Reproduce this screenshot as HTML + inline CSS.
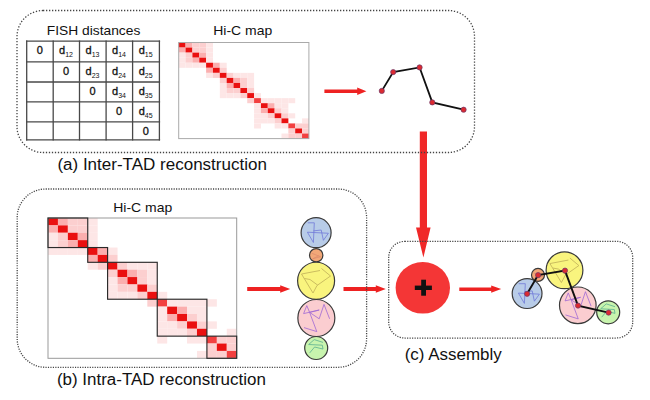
<!DOCTYPE html>
<html><head><meta charset="utf-8"><style>
html,body{margin:0;padding:0;background:#fff;width:650px;height:400px;overflow:hidden}
svg{display:block}
text{font-family:"Liberation Sans",sans-serif;fill:#111;stroke:#111;stroke-width:0.2px}
.lab16{font-size:15.6px;stroke-width:0}
.lab14{font-size:13px;stroke-width:0}
.tc{font-size:11px;stroke:#111;stroke-width:0.3px}
.sub{font-size:7px;stroke-width:0}
</style></head><body>
<svg width="650" height="400" viewBox="0 0 650 400">
<line x1="26.7" y1="40.5" x2="26.7" y2="140.5" stroke="#484848" stroke-width="1.3"/>
<line x1="53.2" y1="40.5" x2="53.2" y2="140.5" stroke="#484848" stroke-width="1.3"/>
<line x1="79.5" y1="40.5" x2="79.5" y2="140.5" stroke="#484848" stroke-width="1.3"/>
<line x1="106.1" y1="40.5" x2="106.1" y2="140.5" stroke="#484848" stroke-width="1.3"/>
<line x1="132.6" y1="40.5" x2="132.6" y2="140.5" stroke="#484848" stroke-width="1.3"/>
<line x1="159.4" y1="40.5" x2="159.4" y2="140.5" stroke="#484848" stroke-width="1.3"/>
<line x1="26.0" y1="41.2" x2="160.1" y2="41.2" stroke="#484848" stroke-width="1.3"/>
<line x1="26.0" y1="61.9" x2="160.1" y2="61.9" stroke="#484848" stroke-width="1.3"/>
<line x1="26.0" y1="82.0" x2="160.1" y2="82.0" stroke="#484848" stroke-width="1.3"/>
<line x1="26.0" y1="101.8" x2="160.1" y2="101.8" stroke="#484848" stroke-width="1.3"/>
<line x1="26.0" y1="121.9" x2="160.1" y2="121.9" stroke="#484848" stroke-width="1.3"/>
<line x1="26.0" y1="139.8" x2="160.1" y2="139.8" stroke="#484848" stroke-width="1.3"/>
<text x="39.7" y="54.2" class="tc" text-anchor="middle">0</text>
<text x="66.0" y="54.2" class="tc" text-anchor="middle">d<tspan class="sub" dy="2.9">12</tspan></text>
<text x="92.5" y="54.2" class="tc" text-anchor="middle">d<tspan class="sub" dy="2.9">13</tspan></text>
<text x="119.0" y="54.2" class="tc" text-anchor="middle">d<tspan class="sub" dy="2.9">14</tspan></text>
<text x="145.7" y="54.2" class="tc" text-anchor="middle">d<tspan class="sub" dy="2.9">15</tspan></text>
<text x="66.0" y="74.9" class="tc" text-anchor="middle">0</text>
<text x="92.5" y="74.9" class="tc" text-anchor="middle">d<tspan class="sub" dy="2.9">23</tspan></text>
<text x="119.0" y="74.9" class="tc" text-anchor="middle">d<tspan class="sub" dy="2.9">24</tspan></text>
<text x="145.7" y="74.9" class="tc" text-anchor="middle">d<tspan class="sub" dy="2.9">25</tspan></text>
<text x="92.5" y="95.0" class="tc" text-anchor="middle">0</text>
<text x="119.0" y="95.0" class="tc" text-anchor="middle">d<tspan class="sub" dy="2.9">34</tspan></text>
<text x="145.7" y="95.0" class="tc" text-anchor="middle">d<tspan class="sub" dy="2.9">35</tspan></text>
<text x="119.0" y="114.8" class="tc" text-anchor="middle">0</text>
<text x="145.7" y="114.8" class="tc" text-anchor="middle">d<tspan class="sub" dy="2.9">45</tspan></text>
<text x="145.7" y="134.9" class="tc" text-anchor="middle">0</text>
<text x="46.8" y="34.8" class="lab14" textLength="93.5" lengthAdjust="spacingAndGlyphs">FISH distances</text>
<rect x="178.70" y="42.50" width="6.87" height="5.08" fill="#ea1010"/>
<rect x="185.55" y="42.50" width="6.87" height="5.08" fill="#fbaeae"/>
<rect x="192.41" y="42.50" width="6.87" height="5.08" fill="#fccfcf"/>
<rect x="199.26" y="42.50" width="6.87" height="5.08" fill="#fccfcf"/>
<rect x="206.11" y="42.50" width="6.87" height="5.08" fill="#fde6e6"/>
<rect x="178.70" y="47.56" width="6.87" height="5.08" fill="#fbaeae"/>
<rect x="185.55" y="47.56" width="6.87" height="5.08" fill="#ea1010"/>
<rect x="192.41" y="47.56" width="6.87" height="5.08" fill="#fccfcf"/>
<rect x="199.26" y="47.56" width="6.87" height="5.08" fill="#fccfcf"/>
<rect x="206.11" y="47.56" width="6.87" height="5.08" fill="#fde6e6"/>
<rect x="178.70" y="52.62" width="6.87" height="5.08" fill="#fde6e6"/>
<rect x="185.55" y="52.62" width="6.87" height="5.08" fill="#fccfcf"/>
<rect x="192.41" y="52.62" width="6.87" height="5.08" fill="#ea1010"/>
<rect x="199.26" y="52.62" width="6.87" height="5.08" fill="#fbaeae"/>
<rect x="206.11" y="52.62" width="6.87" height="5.08" fill="#fde6e6"/>
<rect x="178.70" y="57.67" width="6.87" height="5.08" fill="#fde6e6"/>
<rect x="185.55" y="57.67" width="6.87" height="5.08" fill="#fccfcf"/>
<rect x="192.41" y="57.67" width="6.87" height="5.08" fill="#fbaeae"/>
<rect x="199.26" y="57.67" width="6.87" height="5.08" fill="#ea1010"/>
<rect x="206.11" y="57.67" width="6.87" height="5.08" fill="#fde6e6"/>
<rect x="178.70" y="62.73" width="6.87" height="5.08" fill="#fde6e6"/>
<rect x="185.55" y="62.73" width="6.87" height="5.08" fill="#fde6e6"/>
<rect x="192.41" y="62.73" width="6.87" height="5.08" fill="#fde6e6"/>
<rect x="199.26" y="62.73" width="6.87" height="5.08" fill="#fde6e6"/>
<rect x="206.11" y="62.73" width="6.87" height="5.08" fill="#ea1010"/>
<rect x="212.96" y="62.73" width="6.87" height="5.08" fill="#fbaeae"/>
<rect x="219.82" y="62.73" width="6.87" height="5.08" fill="#fde6e6"/>
<rect x="206.11" y="67.79" width="6.87" height="5.08" fill="#fbaeae"/>
<rect x="212.96" y="67.79" width="6.87" height="5.08" fill="#ea1010"/>
<rect x="219.82" y="67.79" width="6.87" height="5.08" fill="#fccfcf"/>
<rect x="206.11" y="72.85" width="6.87" height="5.08" fill="#fde6e6"/>
<rect x="212.96" y="72.85" width="6.87" height="5.08" fill="#fccfcf"/>
<rect x="219.82" y="72.85" width="6.87" height="5.08" fill="#ea1010"/>
<rect x="226.67" y="72.85" width="6.87" height="5.08" fill="#fccfcf"/>
<rect x="233.52" y="72.85" width="6.87" height="5.08" fill="#fde6e6"/>
<rect x="240.37" y="72.85" width="6.87" height="5.08" fill="#fde6e6"/>
<rect x="247.23" y="72.85" width="6.87" height="5.08" fill="#fde6e6"/>
<rect x="219.82" y="77.91" width="6.87" height="5.08" fill="#fccfcf"/>
<rect x="226.67" y="77.91" width="6.87" height="5.08" fill="#ea1010"/>
<rect x="233.52" y="77.91" width="6.87" height="5.08" fill="#fbaeae"/>
<rect x="240.37" y="77.91" width="6.87" height="5.08" fill="#fccfcf"/>
<rect x="247.23" y="77.91" width="6.87" height="5.08" fill="#fde6e6"/>
<rect x="219.82" y="82.96" width="6.87" height="5.08" fill="#fde6e6"/>
<rect x="226.67" y="82.96" width="6.87" height="5.08" fill="#fbaeae"/>
<rect x="233.52" y="82.96" width="6.87" height="5.08" fill="#ea1010"/>
<rect x="240.37" y="82.96" width="6.87" height="5.08" fill="#fccfcf"/>
<rect x="247.23" y="82.96" width="6.87" height="5.08" fill="#fde6e6"/>
<rect x="219.82" y="88.02" width="6.87" height="5.08" fill="#fde6e6"/>
<rect x="226.67" y="88.02" width="6.87" height="5.08" fill="#fccfcf"/>
<rect x="233.52" y="88.02" width="6.87" height="5.08" fill="#fccfcf"/>
<rect x="240.37" y="88.02" width="6.87" height="5.08" fill="#ea1010"/>
<rect x="247.23" y="88.02" width="6.87" height="5.08" fill="#fccfcf"/>
<rect x="219.82" y="93.08" width="6.87" height="5.08" fill="#fde6e6"/>
<rect x="226.67" y="93.08" width="6.87" height="5.08" fill="#fde6e6"/>
<rect x="233.52" y="93.08" width="6.87" height="5.08" fill="#fde6e6"/>
<rect x="240.37" y="93.08" width="6.87" height="5.08" fill="#fccfcf"/>
<rect x="247.23" y="93.08" width="6.87" height="5.08" fill="#ea1010"/>
<rect x="254.08" y="93.08" width="6.87" height="5.08" fill="#fde6e6"/>
<rect x="247.23" y="98.14" width="6.87" height="5.08" fill="#fccfcf"/>
<rect x="254.08" y="98.14" width="6.87" height="5.08" fill="#f24040"/>
<rect x="260.93" y="98.14" width="6.87" height="5.08" fill="#fde6e6"/>
<rect x="267.78" y="98.14" width="6.87" height="5.08" fill="#fde6e6"/>
<rect x="274.64" y="98.14" width="6.87" height="5.08" fill="#fde6e6"/>
<rect x="281.49" y="98.14" width="6.87" height="5.08" fill="#fde6e6"/>
<rect x="288.34" y="98.14" width="6.87" height="5.08" fill="#fde6e6"/>
<rect x="254.08" y="103.19" width="6.87" height="5.08" fill="#fde6e6"/>
<rect x="260.93" y="103.19" width="6.87" height="5.08" fill="#ea1010"/>
<rect x="267.78" y="103.19" width="6.87" height="5.08" fill="#fbaeae"/>
<rect x="274.64" y="103.19" width="6.87" height="5.08" fill="#fde6e6"/>
<rect x="281.49" y="103.19" width="6.87" height="5.08" fill="#fde6e6"/>
<rect x="254.08" y="108.25" width="6.87" height="5.08" fill="#fde6e6"/>
<rect x="260.93" y="108.25" width="6.87" height="5.08" fill="#fbaeae"/>
<rect x="267.78" y="108.25" width="6.87" height="5.08" fill="#ea1010"/>
<rect x="274.64" y="108.25" width="6.87" height="5.08" fill="#fccfcf"/>
<rect x="281.49" y="108.25" width="6.87" height="5.08" fill="#fde6e6"/>
<rect x="254.08" y="113.31" width="6.87" height="5.08" fill="#fde6e6"/>
<rect x="260.93" y="113.31" width="6.87" height="5.08" fill="#fde6e6"/>
<rect x="267.78" y="113.31" width="6.87" height="5.08" fill="#fccfcf"/>
<rect x="274.64" y="113.31" width="6.87" height="5.08" fill="#ea1010"/>
<rect x="281.49" y="113.31" width="6.87" height="5.08" fill="#fccfcf"/>
<rect x="288.34" y="113.31" width="6.87" height="5.08" fill="#fde6e6"/>
<rect x="254.08" y="118.37" width="6.87" height="5.08" fill="#fde6e6"/>
<rect x="260.93" y="118.37" width="6.87" height="5.08" fill="#fde6e6"/>
<rect x="267.78" y="118.37" width="6.87" height="5.08" fill="#fde6e6"/>
<rect x="274.64" y="118.37" width="6.87" height="5.08" fill="#fccfcf"/>
<rect x="281.49" y="118.37" width="6.87" height="5.08" fill="#ea1010"/>
<rect x="302.05" y="118.37" width="6.87" height="5.08" fill="#fde6e6"/>
<rect x="254.08" y="123.43" width="6.87" height="5.08" fill="#fde6e6"/>
<rect x="274.64" y="123.43" width="6.87" height="5.08" fill="#fde6e6"/>
<rect x="281.49" y="123.43" width="6.87" height="5.08" fill="#fde6e6"/>
<rect x="288.34" y="123.43" width="6.87" height="5.08" fill="#f24040"/>
<rect x="295.19" y="123.43" width="6.87" height="5.08" fill="#fccfcf"/>
<rect x="302.05" y="123.43" width="6.87" height="5.08" fill="#fccfcf"/>
<rect x="288.34" y="128.48" width="6.87" height="5.08" fill="#fccfcf"/>
<rect x="295.19" y="128.48" width="6.87" height="5.08" fill="#ea1010"/>
<rect x="302.05" y="128.48" width="6.87" height="5.08" fill="#fccfcf"/>
<rect x="281.49" y="133.54" width="6.87" height="5.08" fill="#fde6e6"/>
<rect x="288.34" y="133.54" width="6.87" height="5.08" fill="#fccfcf"/>
<rect x="295.19" y="133.54" width="6.87" height="5.08" fill="#fccfcf"/>
<rect x="302.05" y="133.54" width="6.87" height="5.08" fill="#f24040"/>
<rect x="178.7" y="42.5" width="130.2" height="96.1" fill="none" stroke="#aaa" stroke-width="1"/>
<text x="213.2" y="34.9" class="lab14" textLength="59" lengthAdjust="spacingAndGlyphs">Hi-C map</text>
<polygon points="324.4,89.6 357.2,89.6 357.2,87.5 366.4,91.3 357.2,95.1 357.2,93.0 324.4,93.0" fill="#e22"/>
<polyline points="381.8,90.9 393.2,72.1 419.6,67.4 432.3,102.4 463.6,109.7" fill="none" stroke="#111" stroke-width="1.8"/>
<circle cx="381.8" cy="90.9" r="2.6" fill="#dc2a30" stroke="#6a3a6a" stroke-width="0.7"/>
<circle cx="393.2" cy="72.1" r="2.6" fill="#dc2a30" stroke="#6a3a6a" stroke-width="0.7"/>
<circle cx="419.6" cy="67.4" r="2.6" fill="#dc2a30" stroke="#6a3a6a" stroke-width="0.7"/>
<circle cx="432.3" cy="102.4" r="2.6" fill="#dc2a30" stroke="#6a3a6a" stroke-width="0.7"/>
<circle cx="463.6" cy="109.7" r="2.6" fill="#dc2a30" stroke="#6a3a6a" stroke-width="0.7"/>
<text x="57.4" y="169.6" class="lab16" textLength="209.5" lengthAdjust="spacingAndGlyphs">(a) Inter-TAD reconstruction</text>
<polygon points="419.8,131.5 427,131.5 427,227.5 430.6,227.5 423.4,257.5 416,227.5 419.8,227.5" fill="#f02828"/>
<rect x="48.00" y="218.00" width="9.95" height="7.40" fill="#ea1010"/>
<rect x="57.93" y="218.00" width="9.95" height="7.40" fill="#fbaeae"/>
<rect x="67.86" y="218.00" width="9.95" height="7.40" fill="#fccfcf"/>
<rect x="77.79" y="218.00" width="9.95" height="7.40" fill="#fccfcf"/>
<rect x="87.73" y="218.00" width="9.95" height="7.40" fill="#fde6e6"/>
<rect x="48.00" y="225.38" width="9.95" height="7.40" fill="#fbaeae"/>
<rect x="57.93" y="225.38" width="9.95" height="7.40" fill="#ea1010"/>
<rect x="67.86" y="225.38" width="9.95" height="7.40" fill="#fccfcf"/>
<rect x="77.79" y="225.38" width="9.95" height="7.40" fill="#fccfcf"/>
<rect x="87.73" y="225.38" width="9.95" height="7.40" fill="#fde6e6"/>
<rect x="48.00" y="232.77" width="9.95" height="7.40" fill="#fde6e6"/>
<rect x="57.93" y="232.77" width="9.95" height="7.40" fill="#fccfcf"/>
<rect x="67.86" y="232.77" width="9.95" height="7.40" fill="#ea1010"/>
<rect x="77.79" y="232.77" width="9.95" height="7.40" fill="#fbaeae"/>
<rect x="87.73" y="232.77" width="9.95" height="7.40" fill="#fde6e6"/>
<rect x="48.00" y="240.15" width="9.95" height="7.40" fill="#fde6e6"/>
<rect x="57.93" y="240.15" width="9.95" height="7.40" fill="#fccfcf"/>
<rect x="67.86" y="240.15" width="9.95" height="7.40" fill="#fbaeae"/>
<rect x="77.79" y="240.15" width="9.95" height="7.40" fill="#ea1010"/>
<rect x="87.73" y="240.15" width="9.95" height="7.40" fill="#fde6e6"/>
<rect x="48.00" y="247.54" width="9.95" height="7.40" fill="#fde6e6"/>
<rect x="57.93" y="247.54" width="9.95" height="7.40" fill="#fde6e6"/>
<rect x="67.86" y="247.54" width="9.95" height="7.40" fill="#fde6e6"/>
<rect x="77.79" y="247.54" width="9.95" height="7.40" fill="#fde6e6"/>
<rect x="87.73" y="247.54" width="9.95" height="7.40" fill="#ea1010"/>
<rect x="97.66" y="247.54" width="9.95" height="7.40" fill="#fbaeae"/>
<rect x="107.59" y="247.54" width="9.95" height="7.40" fill="#fde6e6"/>
<rect x="87.73" y="254.92" width="9.95" height="7.40" fill="#fbaeae"/>
<rect x="97.66" y="254.92" width="9.95" height="7.40" fill="#ea1010"/>
<rect x="107.59" y="254.92" width="9.95" height="7.40" fill="#fccfcf"/>
<rect x="87.73" y="262.31" width="9.95" height="7.40" fill="#fde6e6"/>
<rect x="97.66" y="262.31" width="9.95" height="7.40" fill="#fccfcf"/>
<rect x="107.59" y="262.31" width="9.95" height="7.40" fill="#ea1010"/>
<rect x="117.52" y="262.31" width="9.95" height="7.40" fill="#fccfcf"/>
<rect x="127.45" y="262.31" width="9.95" height="7.40" fill="#fde6e6"/>
<rect x="137.38" y="262.31" width="9.95" height="7.40" fill="#fde6e6"/>
<rect x="147.32" y="262.31" width="9.95" height="7.40" fill="#fde6e6"/>
<rect x="107.59" y="269.69" width="9.95" height="7.40" fill="#fccfcf"/>
<rect x="117.52" y="269.69" width="9.95" height="7.40" fill="#ea1010"/>
<rect x="127.45" y="269.69" width="9.95" height="7.40" fill="#fbaeae"/>
<rect x="137.38" y="269.69" width="9.95" height="7.40" fill="#fccfcf"/>
<rect x="147.32" y="269.69" width="9.95" height="7.40" fill="#fde6e6"/>
<rect x="107.59" y="277.07" width="9.95" height="7.40" fill="#fde6e6"/>
<rect x="117.52" y="277.07" width="9.95" height="7.40" fill="#fbaeae"/>
<rect x="127.45" y="277.07" width="9.95" height="7.40" fill="#ea1010"/>
<rect x="137.38" y="277.07" width="9.95" height="7.40" fill="#fccfcf"/>
<rect x="147.32" y="277.07" width="9.95" height="7.40" fill="#fde6e6"/>
<rect x="107.59" y="284.46" width="9.95" height="7.40" fill="#fde6e6"/>
<rect x="117.52" y="284.46" width="9.95" height="7.40" fill="#fccfcf"/>
<rect x="127.45" y="284.46" width="9.95" height="7.40" fill="#fccfcf"/>
<rect x="137.38" y="284.46" width="9.95" height="7.40" fill="#ea1010"/>
<rect x="147.32" y="284.46" width="9.95" height="7.40" fill="#fccfcf"/>
<rect x="107.59" y="291.84" width="9.95" height="7.40" fill="#fde6e6"/>
<rect x="117.52" y="291.84" width="9.95" height="7.40" fill="#fde6e6"/>
<rect x="127.45" y="291.84" width="9.95" height="7.40" fill="#fde6e6"/>
<rect x="137.38" y="291.84" width="9.95" height="7.40" fill="#fccfcf"/>
<rect x="147.32" y="291.84" width="9.95" height="7.40" fill="#ea1010"/>
<rect x="157.25" y="291.84" width="9.95" height="7.40" fill="#fde6e6"/>
<rect x="147.32" y="299.23" width="9.95" height="7.40" fill="#fccfcf"/>
<rect x="157.25" y="299.23" width="9.95" height="7.40" fill="#f24040"/>
<rect x="167.18" y="299.23" width="9.95" height="7.40" fill="#fde6e6"/>
<rect x="177.11" y="299.23" width="9.95" height="7.40" fill="#fde6e6"/>
<rect x="187.04" y="299.23" width="9.95" height="7.40" fill="#fde6e6"/>
<rect x="196.97" y="299.23" width="9.95" height="7.40" fill="#fde6e6"/>
<rect x="206.91" y="299.23" width="9.95" height="7.40" fill="#fde6e6"/>
<rect x="157.25" y="306.61" width="9.95" height="7.40" fill="#fde6e6"/>
<rect x="167.18" y="306.61" width="9.95" height="7.40" fill="#ea1010"/>
<rect x="177.11" y="306.61" width="9.95" height="7.40" fill="#fbaeae"/>
<rect x="187.04" y="306.61" width="9.95" height="7.40" fill="#fde6e6"/>
<rect x="196.97" y="306.61" width="9.95" height="7.40" fill="#fde6e6"/>
<rect x="157.25" y="313.99" width="9.95" height="7.40" fill="#fde6e6"/>
<rect x="167.18" y="313.99" width="9.95" height="7.40" fill="#fbaeae"/>
<rect x="177.11" y="313.99" width="9.95" height="7.40" fill="#ea1010"/>
<rect x="187.04" y="313.99" width="9.95" height="7.40" fill="#fccfcf"/>
<rect x="196.97" y="313.99" width="9.95" height="7.40" fill="#fde6e6"/>
<rect x="157.25" y="321.38" width="9.95" height="7.40" fill="#fde6e6"/>
<rect x="167.18" y="321.38" width="9.95" height="7.40" fill="#fde6e6"/>
<rect x="177.11" y="321.38" width="9.95" height="7.40" fill="#fccfcf"/>
<rect x="187.04" y="321.38" width="9.95" height="7.40" fill="#ea1010"/>
<rect x="196.97" y="321.38" width="9.95" height="7.40" fill="#fccfcf"/>
<rect x="206.91" y="321.38" width="9.95" height="7.40" fill="#fde6e6"/>
<rect x="157.25" y="328.76" width="9.95" height="7.40" fill="#fde6e6"/>
<rect x="167.18" y="328.76" width="9.95" height="7.40" fill="#fde6e6"/>
<rect x="177.11" y="328.76" width="9.95" height="7.40" fill="#fde6e6"/>
<rect x="187.04" y="328.76" width="9.95" height="7.40" fill="#fccfcf"/>
<rect x="196.97" y="328.76" width="9.95" height="7.40" fill="#ea1010"/>
<rect x="226.77" y="328.76" width="9.95" height="7.40" fill="#fde6e6"/>
<rect x="157.25" y="336.15" width="9.95" height="7.40" fill="#fde6e6"/>
<rect x="187.04" y="336.15" width="9.95" height="7.40" fill="#fde6e6"/>
<rect x="196.97" y="336.15" width="9.95" height="7.40" fill="#fde6e6"/>
<rect x="206.91" y="336.15" width="9.95" height="7.40" fill="#f24040"/>
<rect x="216.84" y="336.15" width="9.95" height="7.40" fill="#fccfcf"/>
<rect x="226.77" y="336.15" width="9.95" height="7.40" fill="#fccfcf"/>
<rect x="206.91" y="343.53" width="9.95" height="7.40" fill="#fccfcf"/>
<rect x="216.84" y="343.53" width="9.95" height="7.40" fill="#ea1010"/>
<rect x="226.77" y="343.53" width="9.95" height="7.40" fill="#fccfcf"/>
<rect x="196.97" y="350.92" width="9.95" height="7.40" fill="#fde6e6"/>
<rect x="206.91" y="350.92" width="9.95" height="7.40" fill="#fccfcf"/>
<rect x="216.84" y="350.92" width="9.95" height="7.40" fill="#fccfcf"/>
<rect x="226.77" y="350.92" width="9.95" height="7.40" fill="#f24040"/>
<rect x="48.0" y="218.0" width="188.7" height="140.3" fill="none" stroke="#999" stroke-width="1"/>
<rect x="48.00" y="218.00" width="39.73" height="29.54" fill="none" stroke="#2a2a2a" stroke-width="1.15"/>
<rect x="87.73" y="247.54" width="19.86" height="14.77" fill="none" stroke="#2a2a2a" stroke-width="1.15"/>
<rect x="107.59" y="262.31" width="49.66" height="36.92" fill="none" stroke="#2a2a2a" stroke-width="1.15"/>
<rect x="157.25" y="299.23" width="49.66" height="36.92" fill="none" stroke="#2a2a2a" stroke-width="1.15"/>
<rect x="206.91" y="336.15" width="29.79" height="22.15" fill="none" stroke="#2a2a2a" stroke-width="1.15"/>
<text x="113.2" y="211.8" class="lab14" textLength="59" lengthAdjust="spacingAndGlyphs">Hi-C map</text>
<polygon points="247.2,287.1 280.2,287.1 280.2,285.2 290.2,289.0 280.2,292.8 280.2,290.9 247.2,290.9" fill="#e22"/>
<polygon points="343.5,287.1 375.8,287.1 375.8,285.2 385.8,289.0 375.8,292.8 375.8,290.9 343.5,290.9" fill="#e22"/>
<text x="56.9" y="385.2" class="lab16" textLength="209" lengthAdjust="spacingAndGlyphs">(b) Intra-TAD reconstruction</text>
<circle cx="316.10" cy="232.70" r="15.00" fill="#b8cce8" stroke="#3a3a3a" stroke-width="1.20"/>
<polyline points="307.75,222.80 314.30,222.80 313.40,242.50 307.40,232.20 328.40,233.25 323.40,240.30 321.20,230.00 313.40,230.90" fill="none" stroke="#7078d8" stroke-width="0.80" stroke-linejoin="round"/>
<circle cx="316.20" cy="255.25" r="6.70" fill="#f2a878" stroke="#3a3a3a" stroke-width="1.20"/>
<polyline points="311.70,253.25 320.70,256.75 312.70,258.75 318.70,255.75" fill="none" stroke="#d8866a" stroke-width="0.60" stroke-linejoin="round"/>
<circle cx="316.10" cy="280.75" r="18.50" fill="#f9f47e" stroke="#3a3a3a" stroke-width="1.20"/>
<polyline points="320.00,270.50 301.50,274.00 313.00,293.00 317.00,285.50 330.50,276.00 321.50,268.50" fill="none" stroke="#bfae58" stroke-width="0.80" stroke-linejoin="round"/>
<polyline points="304.50,278.50 310.00,279.50 317.50,285.00" fill="none" stroke="#bfae58" stroke-width="0.80" stroke-linejoin="round"/>
<circle cx="316.35" cy="318.00" r="18.50" fill="#fbcdd0" stroke="#3a3a3a" stroke-width="1.20"/>
<polyline points="304.00,327.60 316.80,331.60 309.60,312.40 306.80,305.60 303.60,313.60 319.20,310.00 309.60,312.40 319.20,318.80 324.00,304.40 329.60,318.80" fill="none" stroke="#a068d4" stroke-width="0.80" stroke-linejoin="round"/>
<circle cx="316.20" cy="348.00" r="11.50" fill="#c8f4ae" stroke="#3a3a3a" stroke-width="1.20"/>
<polyline points="323.00,342.40 314.25,339.60 308.65,344.50 322.30,345.20 323.00,349.05 314.60,347.00 309.70,352.90" fill="none" stroke="#5aae90" stroke-width="0.80" stroke-linejoin="round"/>
<ellipse cx="422.8" cy="287.8" rx="27.2" ry="25.8" fill="#f43636"/>
<rect x="414.8" y="285.6" width="17.1" height="4.4" fill="#111"/>
<rect x="421.2" y="279.7" width="4.8" height="16" fill="#111"/>
<polygon points="459.3,287.4 491.2,287.4 491.2,285.4 501.2,289.1 491.2,292.8 491.2,290.9 459.3,290.9" fill="#e22"/>
<text x="404.7" y="359.9" class="lab16" textLength="97" lengthAdjust="spacingAndGlyphs">(c) Assembly</text>
<circle cx="527.10" cy="293.60" r="14.90" fill="#b8cce8" stroke="#3a3a3a" stroke-width="1.20"/>
<polyline points="518.75,283.70 525.30,283.70 524.40,303.40 518.40,293.10 539.40,294.15 534.40,301.20 532.20,290.90 524.40,291.80" fill="none" stroke="#7078d8" stroke-width="0.80" stroke-linejoin="round"/>
<circle cx="538.00" cy="274.90" r="6.50" fill="#f2a878" stroke="#3a3a3a" stroke-width="1.20"/>
<polyline points="533.50,272.90 542.50,276.40 534.50,278.40 540.50,275.40" fill="none" stroke="#d8866a" stroke-width="0.60" stroke-linejoin="round"/>
<circle cx="564.50" cy="270.30" r="18.40" fill="#f9f47e" stroke="#3a3a3a" stroke-width="1.20"/>
<polyline points="568.40,260.05 549.90,263.55 561.40,282.55 565.40,275.05 578.90,265.55 569.90,258.05" fill="none" stroke="#bfae58" stroke-width="0.80" stroke-linejoin="round"/>
<polyline points="552.90,268.05 558.40,269.05 565.90,274.55" fill="none" stroke="#bfae58" stroke-width="0.80" stroke-linejoin="round"/>
<circle cx="577.80" cy="305.30" r="18.30" fill="#fbcdd0" stroke="#3a3a3a" stroke-width="1.20"/>
<polyline points="565.45,314.90 578.25,318.90 571.05,299.70 568.25,292.90 565.05,300.90 580.65,297.30 571.05,299.70 580.65,306.10 585.45,291.70 591.05,306.10" fill="none" stroke="#a068d4" stroke-width="0.80" stroke-linejoin="round"/>
<circle cx="608.20" cy="312.30" r="11.50" fill="#c8f4ae" stroke="#3a3a3a" stroke-width="1.20"/>
<polyline points="615.00,306.70 606.25,303.90 600.65,308.80 614.30,309.50 615.00,313.35 606.60,311.30 601.70,317.20" fill="none" stroke="#5aae90" stroke-width="0.80" stroke-linejoin="round"/>
<polyline points="527.1,293.8 538.1,275.1 565.0,270.6 578.0,305.6 608.6,312.6" fill="none" stroke="#111" stroke-width="1.9"/>
<circle cx="527.1" cy="293.8" r="2.6" fill="#dc2a30" stroke="#6a3a6a" stroke-width="0.7"/>
<circle cx="538.1" cy="275.1" r="2.6" fill="#dc2a30" stroke="#6a3a6a" stroke-width="0.7"/>
<circle cx="565.0" cy="270.6" r="2.6" fill="#dc2a30" stroke="#6a3a6a" stroke-width="0.7"/>
<circle cx="578.0" cy="305.6" r="2.6" fill="#dc2a30" stroke="#6a3a6a" stroke-width="0.7"/>
<circle cx="608.6" cy="312.6" r="2.6" fill="#dc2a30" stroke="#6a3a6a" stroke-width="0.7"/>
<rect x="17.0" y="10.5" width="457.5" height="142.0" rx="26.0" fill="none" stroke="#444" stroke-width="1.30" stroke-dasharray="1.3 1.7"/>
<rect x="17.2" y="189.0" width="349.4" height="178.3" rx="28.5" fill="none" stroke="#444" stroke-width="1.30" stroke-dasharray="1.15 1.31"/>
<rect x="388.7" y="241.4" width="244.0" height="96.6" rx="16.0" fill="none" stroke="#444" stroke-width="1.25" stroke-dasharray="1.2 1.3"/>
</svg>
</body></html>
